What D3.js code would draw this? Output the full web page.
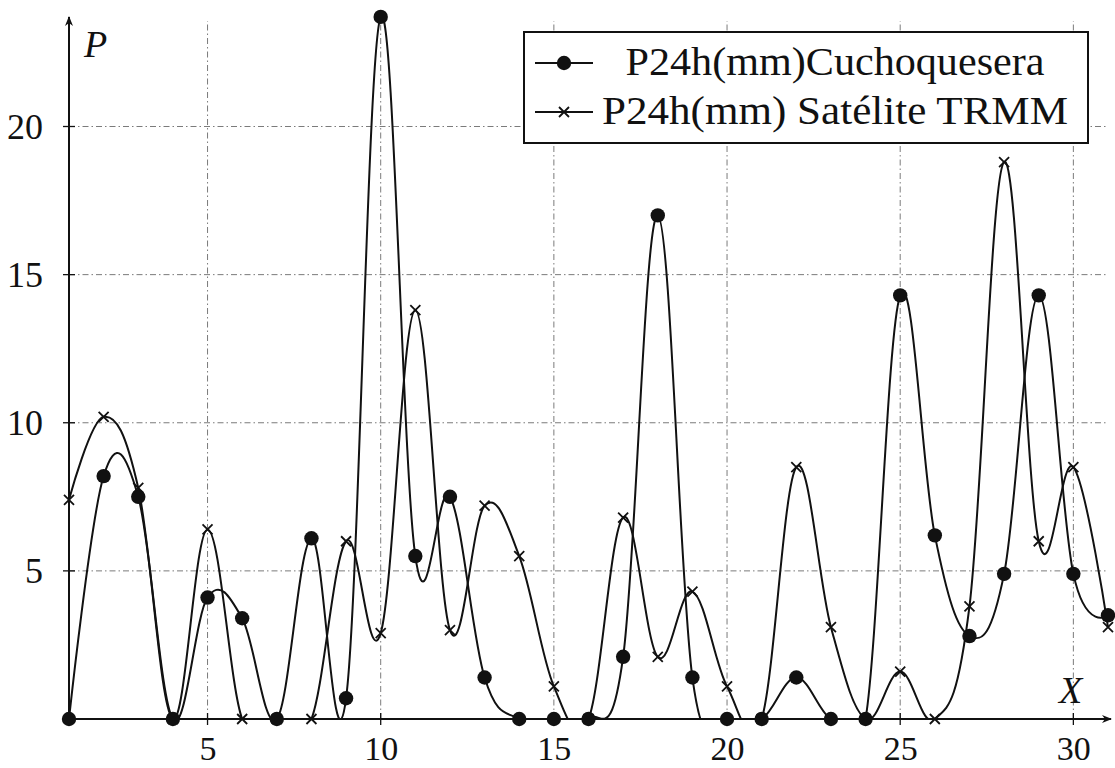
<!DOCTYPE html>
<html>
<head>
<meta charset="utf-8">
<script src="https://cdn.jsdelivr.net/npm/d3@7"></script>
<style>
  html, body { margin: 0; padding: 0; background: #fff; }
  svg { display: block; }
  svg text { font-family: "Liberation Serif", "Times New Roman", Tinos, Times, "DejaVu Serif", "Noto Serif", serif; fill: #111; }
</style>
</head>
<body>
<svg id="chart" width="1115" height="768"></svg>
<script>
// ---- data ----
const days = [1,2,3,4,5,6,7,8,9,10,11,12,13,14,15,16,17,18,19,20,21,22,23,24,25,26,27,28,29,30,31];
const cuchoquesera = [0,8.2,7.5,0,4.1,3.4,0,6.1,0.7,23.7,5.5,7.5,1.4,0,0,0,2.1,17.0,1.4,0,0,1.4,0,0,14.3,6.2,2.8,4.9,14.3,4.9,3.5];
const trmm = [7.4,10.2,7.8,0,6.4,0,0,0,6.0,2.9,13.8,3.0,7.2,5.5,1.1,0,6.8,2.1,4.3,1.1,0,8.5,3.1,0,1.6,0,3.8,18.8,6.0,8.5,3.1];
const xTicks = [5,10,15,20,25,30];
const yTicks = [5,10,15,20];
const seriesNames = ["P24h(mm)Cuchoquesera", "P24h(mm) Satélite TRMM"];

// ---- layout ----
const svg = d3.select("#chart");
const x = d3.scaleLinear().domain([1, 31]).range([69, 1108]);
const y = d3.scaleLinear().domain([0, 20]).range([719, 126.5]);
const yTop = 17;
const ink = "#111";
const serif = '"Liberation Serif", "Times New Roman", Tinos, Times, "DejaVu Serif", serif';

const defs = svg.append("defs");
defs.append("clipPath").attr("id", "plotclip")
  .append("rect").attr("x", x(1)).attr("y", 0).attr("width", x(31) - x(1) + 2).attr("height", y(0));
defs.append("marker").attr("id", "arrow").attr("viewBox", "0 0 10 10")
  .attr("refX", 9).attr("refY", 5).attr("markerWidth", 12).attr("markerHeight", 10)
  .attr("orient", "auto").attr("markerUnits", "userSpaceOnUse")
  .append("path").attr("d", "M0,1 L10,5 L0,9 L3,5 Z").attr("fill", ink);

// grid
const grid = svg.append("g").attr("stroke", "#444").attr("stroke-width", 1)
  .attr("stroke-dasharray", "6,3,1.5,3").attr("opacity", 0.7);
grid.selectAll("line.v").data(xTicks).join("line")
  .attr("x1", d => x(d)).attr("x2", d => x(d)).attr("y1", y(0)).attr("y2", yTop + 4);
grid.selectAll("line.h").data(yTicks).join("line")
  .attr("y1", d => y(d)).attr("y2", d => y(d)).attr("x1", x(1)).attr("x2", x(31));

// axes
const xAxis = d3.axisBottom(x).tickValues(xTicks).tickSize(0).tickPadding(20).tickFormat(d3.format("d"));
const gx = svg.append("g").attr("transform", `translate(0,${y(0)})`).call(xAxis).attr("font-family", serif);
gx.select(".domain").remove();
gx.selectAll("text").attr("font-size", 34).style("font-family", serif).attr("fill", ink)
  .attr("dy", null).attr("y", 41);

const yAxis = d3.axisLeft(y).tickValues(yTicks).tickSize(0).tickPadding(26).tickFormat(d3.format("d"));
const gy = svg.append("g").attr("transform", `translate(${x(1)},0)`).call(yAxis).attr("font-family", serif);
gy.select(".domain").remove();
gy.selectAll("text").attr("font-size", 36).style("font-family", serif).attr("fill", ink);

// tick marks crossing axes
svg.append("g").selectAll("line").data(xTicks).join("line")
  .attr("x1", d => x(d)).attr("x2", d => x(d)).attr("y1", y(0) - 6).attr("y2", y(0) + 6)
  .attr("stroke", ink).attr("stroke-width", 1.3);
svg.append("g").selectAll("line").data(yTicks).join("line")
  .attr("y1", d => y(d)).attr("y2", d => y(d)).attr("x1", x(1) - 6).attr("x2", x(1) + 6)
  .attr("stroke", ink).attr("stroke-width", 1.3);

// axis lines with arrows
svg.append("line").attr("x1", x(1)).attr("x2", 1111).attr("y1", y(0)).attr("y2", y(0))
  .attr("stroke", ink).attr("stroke-width", 2).attr("marker-end", "url(#arrow)");
svg.append("line").attr("x1", x(1)).attr("x2", x(1)).attr("y1", y(0)).attr("y2", yTop)
  .attr("stroke", ink).attr("stroke-width", 2).attr("marker-end", "url(#arrow)");

// axis labels
svg.append("text").attr("x", 84).attr("y", 57).attr("font-size", 38).attr("font-style", "italic").text("P");
svg.append("text").attr("x", 1059).attr("y", 703).attr("font-size", 38).attr("font-style", "italic").text("X");

// curves
const line = d3.line().x((d, i) => x(days[i])).y(d => y(d)).curve(d3.curveCardinal.tension(-0.1));
const plot = svg.append("g").attr("clip-path", "url(#plotclip)");
plot.append("path").datum(cuchoquesera).attr("d", line).attr("fill", "none").attr("stroke", ink).attr("stroke-width", 2);
plot.append("path").datum(trmm).attr("d", line).attr("fill", "none").attr("stroke", ink).attr("stroke-width", 2);

// markers
svg.append("g").selectAll("circle").data(cuchoquesera).join("circle")
  .attr("cx", (d, i) => x(days[i])).attr("cy", d => y(d)).attr("r", 7.2).attr("fill", ink);
const xs = 5;
svg.append("g").selectAll("path").data(trmm).join("path")
  .attr("d", (d, i) => {
    const cx = x(days[i]), cy = y(d);
    return `M${cx - xs},${cy - xs}L${cx + xs},${cy + xs}M${cx - xs},${cy + xs}L${cx + xs},${cy - xs}`;
  })
  .attr("stroke", ink).attr("stroke-width", 1.8).attr("fill", "none");

// legend
const lg = svg.append("g");
lg.append("rect").attr("x", 524).attr("y", 32).attr("width", 564).attr("height", 111)
  .attr("fill", "#fff").attr("stroke", ink).attr("stroke-width", 2);
const rows = [63, 112];
lg.selectAll("line.l").data(rows).join("line")
  .attr("x1", 535).attr("x2", 593).attr("y1", d => d).attr("y2", d => d)
  .attr("stroke", ink).attr("stroke-width", 2);
lg.append("circle").attr("cx", 564).attr("cy", rows[0]).attr("r", 7.2).attr("fill", ink);
lg.append("path").attr("d", `M${564 - xs},${rows[1] - xs}L${564 + xs},${rows[1] + xs}M${564 - xs},${rows[1] + xs}L${564 + xs},${rows[1] - xs}`)
  .attr("stroke", ink).attr("stroke-width", 1.8);
lg.append("text").attr("x", 835).attr("y", 75).attr("text-anchor", "middle").attr("font-size", 40)
  .attr("textLength", 419).attr("lengthAdjust", "spacingAndGlyphs").text(seriesNames[0]);
lg.append("text").attr("x", 835).attr("y", 124).attr("text-anchor", "middle").attr("font-size", 40)
  .attr("textLength", 466).attr("lengthAdjust", "spacingAndGlyphs").text(seriesNames[1]);
</script>
</body>
</html>
